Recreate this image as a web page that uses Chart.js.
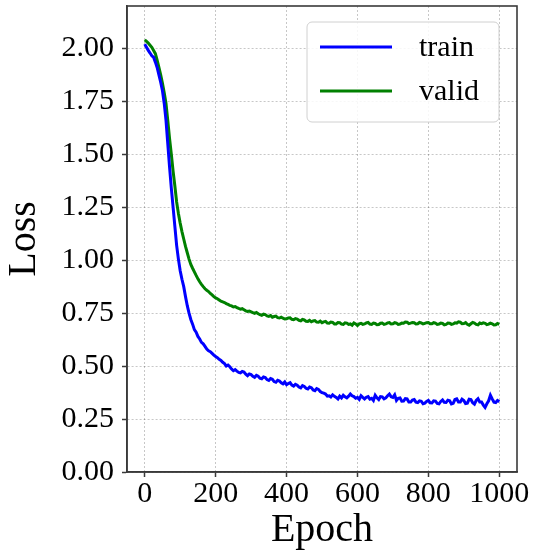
<!DOCTYPE html>
<html>
<head>
<meta charset="utf-8">
<script src="https://cdn.jsdelivr.net/npm/chart.js@4.4.1/dist/chart.umd.min.js"></script>
<style>
  html, body { margin: 0; padding: 0; background: #fff; }
  canvas { display: block; }
</style>
</head>
<body>
<canvas id="lossChart" width="534" height="554"></canvas>
<script>
// ─── DATA ─────────────────────────────────────────────────────────────────────

const epochs = [
  0, 5, 10, 15, 20, 25, 30, 35, 40, 45, 50, 55, 60, 65, 70, 75, 80, 85, 90, 95,
  100, 105, 110, 115, 120, 125, 130, 135, 140, 145, 150, 155, 160, 165, 170, 175, 180, 185, 190, 195,
  200, 205, 210, 215, 220, 225, 230, 235, 240, 245, 250, 255, 260, 265, 270, 275, 280, 285, 290, 295,
  300, 305, 310, 315, 320, 325, 330, 335, 340, 345, 350, 355, 360, 365, 370, 375, 380, 385, 390, 395,
  400, 405, 410, 415, 420, 425, 430, 435, 440, 445, 450, 455, 460, 465, 470, 475, 480, 485, 490, 495,
  500, 505, 510, 515, 520, 525, 530, 535, 540, 545, 550, 555, 560, 565, 570, 575, 580, 585, 590, 595,
  600, 605, 610, 615, 620, 625, 630, 635, 640, 645, 650, 655, 660, 665, 670, 675, 680, 685, 690, 695,
  700, 705, 710, 715, 720, 725, 730, 735, 740, 745, 750, 755, 760, 765, 770, 775, 780, 785, 790, 795,
  800, 805, 810, 815, 820, 825, 830, 835, 840, 845, 850, 855, 860, 865, 870, 875, 880, 885, 890, 895,
  900, 905, 910, 915, 920, 925, 930, 935, 940, 945, 950, 955, 960, 965, 970, 975, 980, 985, 990, 995,
  1000
];

const trainLoss = [
  2.02, 2.005, 1.99, 1.978, 1.965, 1.958, 1.935, 1.91, 1.875, 1.84,
  1.80, 1.74, 1.66, 1.55, 1.44, 1.34, 1.25, 1.16, 1.07, 1.005,
  0.95, 0.91, 0.875, 0.828, 0.785, 0.75, 0.72, 0.698, 0.672, 0.66,
  0.64, 0.628, 0.612, 0.605, 0.593, 0.58, 0.572, 0.568, 0.56, 0.552,
  0.545, 0.54, 0.532, 0.527, 0.518, 0.512, 0.50, 0.505, 0.497, 0.486,
  0.478, 0.483, 0.476, 0.47, 0.468, 0.475, 0.472, 0.462, 0.455, 0.463,
  0.46, 0.452, 0.447, 0.456, 0.452, 0.443, 0.44, 0.449, 0.446, 0.436,
  0.432, 0.441, 0.438, 0.427, 0.424, 0.433, 0.43, 0.421, 0.416, 0.425,
  0.412, 0.418, 0.422, 0.41, 0.405, 0.414, 0.41, 0.401, 0.397, 0.408,
  0.404, 0.395, 0.392, 0.401, 0.398, 0.387, 0.384, 0.394, 0.39, 0.38,
  0.375, 0.372, 0.368, 0.358, 0.36, 0.354, 0.364, 0.357, 0.352, 0.345,
  0.358, 0.35, 0.362, 0.355, 0.35, 0.358, 0.368, 0.36, 0.356, 0.348,
  0.352, 0.343, 0.36, 0.352, 0.345, 0.353, 0.356, 0.344, 0.348, 0.338,
  0.362, 0.35, 0.342, 0.356, 0.355, 0.345, 0.35, 0.36, 0.368, 0.355,
  0.352, 0.364, 0.338, 0.348, 0.35, 0.334, 0.335, 0.346, 0.345, 0.33,
  0.33, 0.34, 0.342, 0.33, 0.328, 0.336, 0.334, 0.322, 0.325, 0.333,
  0.338, 0.327, 0.326, 0.336, 0.335, 0.324, 0.322, 0.333, 0.34, 0.329,
  0.328, 0.339, 0.336, 0.321, 0.324, 0.342, 0.345, 0.33, 0.33, 0.344,
  0.338, 0.323, 0.325, 0.344, 0.342, 0.327, 0.32, 0.338, 0.346, 0.33,
  0.33, 0.316, 0.305, 0.322, 0.336, 0.362, 0.345, 0.33, 0.328, 0.338,
  0.332
];

const validLoss = [
  2.04, 2.033, 2.025, 2.015, 2.005, 1.99, 1.975, 1.945, 1.91, 1.875,
  1.835, 1.79, 1.74, 1.66, 1.575, 1.50, 1.42, 1.35, 1.275, 1.22,
  1.175, 1.135, 1.10, 1.065, 1.035, 1.005, 0.98, 0.962, 0.945, 0.928,
  0.912, 0.898, 0.886, 0.875, 0.865, 0.858, 0.852, 0.843, 0.836, 0.828,
  0.822, 0.818, 0.812, 0.806, 0.803, 0.80, 0.795, 0.791, 0.787, 0.784,
  0.779, 0.781, 0.776, 0.772, 0.769, 0.771, 0.766, 0.761, 0.758, 0.76,
  0.756, 0.752, 0.749, 0.753, 0.747, 0.743, 0.74, 0.745, 0.743, 0.737,
  0.735, 0.739, 0.731, 0.734, 0.736, 0.729, 0.727, 0.731, 0.726, 0.722,
  0.723, 0.727, 0.728, 0.721, 0.719, 0.724, 0.722, 0.716, 0.714, 0.72,
  0.718, 0.712, 0.711, 0.716, 0.709, 0.713, 0.715, 0.708, 0.707, 0.712,
  0.705, 0.709, 0.711, 0.703, 0.702, 0.708, 0.706, 0.699, 0.699, 0.706,
  0.705, 0.698, 0.697, 0.704, 0.703, 0.697, 0.699, 0.693, 0.704, 0.699,
  0.692, 0.699, 0.702, 0.697, 0.699, 0.704, 0.706, 0.698, 0.697, 0.703,
  0.701, 0.695, 0.696, 0.702, 0.703, 0.697, 0.699, 0.704, 0.705, 0.699,
  0.70, 0.705, 0.703, 0.697, 0.698, 0.703, 0.702, 0.708, 0.707, 0.701,
  0.703, 0.706, 0.705, 0.699, 0.70, 0.706, 0.704, 0.699, 0.702, 0.705,
  0.706, 0.70, 0.70, 0.705, 0.703, 0.697, 0.698, 0.703, 0.701, 0.695,
  0.697, 0.703, 0.702, 0.697, 0.699, 0.704, 0.703, 0.709, 0.707, 0.70,
  0.701, 0.705, 0.697, 0.693, 0.70, 0.706, 0.703, 0.697, 0.695, 0.703,
  0.70, 0.704, 0.702, 0.696, 0.698, 0.703, 0.70, 0.694, 0.695, 0.701,
  0.697
];

const xTicks = [0, 200, 400, 600, 800, 1000];
const yTicks = [0, 0.25, 0.5, 0.75, 1.0, 1.25, 1.5, 1.75, 2.0];

// ─── STYLE ────────────────────────────────────────────────────────────────────

const SERIF = "'Liberation Serif', 'Times New Roman', serif";
const AXIS_COLOR = '#3a3a3a';
const GRID_COLOR = 'rgba(0,0,0,0.22)';

const gridOpts = {
  color: GRID_COLOR,
  lineWidth: 1,
  tickColor: AXIS_COLOR,
  tickLength: 5,
  tickWidth: 1.5,
  tickBorderDash: [],
};

const borderOpts = { color: AXIS_COLOR, width: 1.6, dash: [2, 2] };

// frame (top/right spines) + legend drawn inside the plot area
const frameAndLegend = {
  id: 'frameAndLegend',
  afterDraw(chart) {
    const { ctx, chartArea: a } = chart;
    ctx.save();
    ctx.strokeStyle = AXIS_COLOR;
    ctx.lineWidth = 1.6;
    ctx.strokeRect(a.left, a.top, a.right - a.left, a.bottom - a.top);

    // legend box
    const bx = 307, by = 22, bw = 192, bh = 100, r = 5;
    ctx.beginPath();
    ctx.roundRect(bx, by, bw, bh, r);
    ctx.fillStyle = 'rgba(255,255,255,0.85)';
    ctx.fill();
    ctx.strokeStyle = '#d0d0d0';
    ctx.lineWidth = 1;
    ctx.stroke();

    ctx.font = '30px ' + SERIF;
    ctx.textBaseline = 'middle';
    ctx.textAlign = 'left';
    chart.data.datasets.forEach((ds, i) => {
      const y = 47 + i * 44;
      ctx.beginPath();
      ctx.moveTo(320, y);
      ctx.lineTo(392, y);
      ctx.strokeStyle = ds.borderColor;
      ctx.lineWidth = 3;
      ctx.stroke();
      ctx.fillStyle = '#000';
      ctx.fillText(ds.label, 419, y + 1);
    });
    ctx.restore();
  }
};

// ─── CHART ────────────────────────────────────────────────────────────────────

const ctx = document.getElementById('lossChart');

new Chart(ctx, {
  type: 'line',
  data: {
    datasets: [
      {
        label: 'train',
        data: epochs.map((e, i) => ({ x: e, y: trainLoss[i] })),
        borderColor: '#0000ff',
        borderWidth: 3,
        pointRadius: 0,
        tension: 0,
      },
      {
        label: 'valid',
        data: epochs.map((e, i) => ({ x: e, y: validLoss[i] })),
        borderColor: '#008000',
        borderWidth: 3,
        pointRadius: 0,
        tension: 0,
      }
    ]
  },
  options: {
    responsive: false,
    animation: false,
    layout: { padding: { top: 6, right: 17, left: 0, bottom: 0 } },
    plugins: {
      legend: { display: false },
      tooltip: { enabled: false },
    },
    scales: {
      x: {
        type: 'linear',
        min: -50,
        max: 1050,
        afterBuildTicks: s => { s.ticks = xTicks.map(v => ({ value: v })); },
        afterFit: s => { s.height = 82; s.paddingLeft = 0; s.paddingRight = 0; },
        grid: gridOpts,
        border: borderOpts,
        ticks: {
          color: '#000',
          padding: 2,
          maxRotation: 0,
          font: { family: SERIF, size: 30, lineHeight: 1 },
          callback: v => String(v),
        },
        title: {
          display: true,
          text: 'Epoch',
          color: '#000',
          font: { family: SERIF, size: 40 },
          padding: { top: 2, bottom: 0 },
        },
      },
      y: {
        min: 0,
        max: 2.2,
        afterBuildTicks: s => { s.ticks = yTicks.map(v => ({ value: v })); },
        afterFit: s => { s.width = 127; s.paddingTop = 0; s.paddingBottom = 0; },
        grid: gridOpts,
        border: borderOpts,
        ticks: {
          color: '#000',
          padding: 8,
          font: { family: SERIF, size: 30, lineHeight: 1 },
          callback: v => v.toFixed(2),
        },
        title: {
          display: true,
          text: 'Loss',
          color: '#000',
          font: { family: SERIF, size: 40 },
          padding: { top: 0, bottom: 0 },
        },
      }
    }
  },
  plugins: [frameAndLegend]
});
</script>
</body>
</html>
